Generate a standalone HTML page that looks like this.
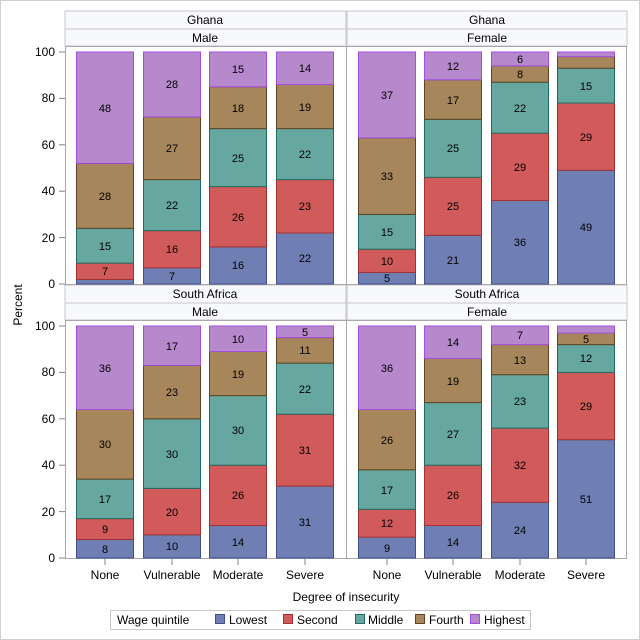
<!DOCTYPE html>
<html><head><meta charset="utf-8"><style>
body{margin:0;background:#fff}
svg{display:block;font-family:"Liberation Sans",sans-serif}
.c1{fill:#6f7fb4;stroke:#3f4f8f}
.c2{fill:#d15b5b;stroke:#a83030}
.c3{fill:#66a8a0;stroke:#1e6e66}
.c4{fill:#a8865b;stroke:#5e4422}
.c5{fill:#b689cc;stroke:#a44de0}
.l{font-size:11px;text-anchor:middle;fill:#000}
.h{fill:#f8f9fd;stroke:#c8c8c8}
.t{font-size:12px;fill:#000}
</style></head><body>
<svg width="640" height="640" viewBox="0 0 640 640">
<rect x="0.5" y="0.5" width="639" height="639" fill="#fff" stroke="#d0d0d0"/>
<!-- headers -->
<rect class="h" x="65" y="11" width="281" height="18"/><rect class="h" x="347" y="11" width="280" height="18"/>
<rect class="h" x="65" y="29" width="281" height="17"/><rect class="h" x="347" y="29" width="280" height="17"/>
<rect class="h" x="65" y="285" width="281" height="18"/><rect class="h" x="347" y="285" width="280" height="18"/>
<rect class="h" x="65" y="303" width="281" height="17"/><rect class="h" x="347" y="303" width="280" height="17"/>
<g class="t" text-anchor="middle">
<text x="205" y="24">Ghana</text><text x="487" y="24">Ghana</text>
<text x="205" y="42">Male</text><text x="487" y="42">Female</text>
<text x="205" y="298">South Africa</text><text x="487" y="298">South Africa</text>
<text x="205" y="316">Male</text><text x="487" y="316">Female</text>
</g>
<!-- plot frames -->
<g fill="none" stroke="#a8a8a8">
<rect x="65.5" y="46.5" width="281" height="238"/><rect x="346.5" y="46.5" width="280" height="238"/>
<rect x="65.5" y="320.5" width="281" height="238"/><rect x="346.5" y="320.5" width="280" height="238"/>
</g>
<!-- y axes -->
<g stroke="#888">
<line x1="59" x2="65" y1="284" y2="284"/><line x1="59" x2="65" y1="237.6" y2="237.6"/><line x1="59" x2="65" y1="191.2" y2="191.2"/><line x1="59" x2="65" y1="144.8" y2="144.8"/><line x1="59" x2="65" y1="98.4" y2="98.4"/><line x1="59" x2="65" y1="52" y2="52"/>
<line x1="59" x2="65" y1="558" y2="558"/><line x1="59" x2="65" y1="511.6" y2="511.6"/><line x1="59" x2="65" y1="465.2" y2="465.2"/><line x1="59" x2="65" y1="418.8" y2="418.8"/><line x1="59" x2="65" y1="372.4" y2="372.4"/><line x1="59" x2="65" y1="326" y2="326"/>
</g>
<g class="t" text-anchor="end">
<text x="55" y="288">0</text><text x="55" y="242">20</text><text x="55" y="195">40</text><text x="55" y="149">60</text><text x="55" y="102">80</text><text x="55" y="56">100</text>
<text x="55" y="562">0</text><text x="55" y="516">20</text><text x="55" y="469">40</text><text x="55" y="423">60</text><text x="55" y="376">80</text><text x="55" y="330">100</text>
</g>
<text class="t" transform="translate(22,305) rotate(-90)" text-anchor="middle">Percent</text>
<!-- Ghana Male -->
<rect class="c1" x="76.5" y="279.4" width="57" height="4.6"/><rect class="c2" x="76.5" y="263.1" width="57" height="16.3"/><rect class="c3" x="76.5" y="228.3" width="57" height="34.8"/><rect class="c4" x="76.5" y="163.4" width="57" height="64.9"/><rect class="c5" x="76.5" y="52" width="57" height="111.4"/>
<rect class="c1" x="143.5" y="267.8" width="57" height="16.2"/><rect class="c2" x="143.5" y="230.6" width="57" height="37.2"/><rect class="c3" x="143.5" y="179.6" width="57" height="51"/><rect class="c4" x="143.5" y="116.9" width="57" height="62.7"/><rect class="c5" x="143.5" y="52" width="57" height="64.9"/>
<rect class="c1" x="209.5" y="246.9" width="57" height="37.1"/><rect class="c2" x="209.5" y="186.6" width="57" height="60.3"/><rect class="c3" x="209.5" y="128.6" width="57" height="58"/><rect class="c4" x="209.5" y="86.8" width="57" height="41.8"/><rect class="c5" x="209.5" y="52" width="57" height="34.8"/>
<rect class="c1" x="276.5" y="233" width="57" height="51"/><rect class="c2" x="276.5" y="179.6" width="57" height="53.4"/><rect class="c3" x="276.5" y="128.6" width="57" height="51"/><rect class="c4" x="276.5" y="84.5" width="57" height="44.1"/><rect class="c5" x="276.5" y="52" width="57" height="32.5"/>
<g class="l">
<text x="105" y="275">7</text><text x="105" y="250">15</text><text x="105" y="200">28</text><text x="105" y="112">48</text>
<text x="172" y="280">7</text><text x="172" y="253">16</text><text x="172" y="209">22</text><text x="172" y="152">27</text><text x="172" y="88">28</text>
<text x="238" y="269">16</text><text x="238" y="221">26</text><text x="238" y="162">25</text><text x="238" y="112">18</text><text x="238" y="73">15</text>
<text x="305" y="262">22</text><text x="305" y="210">23</text><text x="305" y="158">22</text><text x="305" y="111">19</text><text x="305" y="72">14</text>
</g>
<!-- Ghana Female -->
<rect class="c1" x="358.5" y="272.4" width="57" height="11.6"/><rect class="c2" x="358.5" y="249.2" width="57" height="23.2"/><rect class="c3" x="358.5" y="214.4" width="57" height="34.8"/><rect class="c4" x="358.5" y="137.8" width="57" height="76.6"/><rect class="c5" x="358.5" y="52" width="57" height="85.8"/>
<rect class="c1" x="424.5" y="235.3" width="57" height="48.7"/><rect class="c2" x="424.5" y="177.3" width="57" height="58"/><rect class="c3" x="424.5" y="119.3" width="57" height="58"/><rect class="c4" x="424.5" y="79.8" width="57" height="39.5"/><rect class="c5" x="424.5" y="52" width="57" height="27.8"/>
<rect class="c1" x="491.5" y="200.5" width="57" height="83.5"/><rect class="c2" x="491.5" y="133.2" width="57" height="67.3"/><rect class="c3" x="491.5" y="82.2" width="57" height="51"/><rect class="c4" x="491.5" y="65.9" width="57" height="16.3"/><rect class="c5" x="491.5" y="52" width="57" height="13.9"/>
<rect class="c1" x="557.5" y="170.3" width="57" height="113.7"/><rect class="c2" x="557.5" y="103" width="57" height="67.3"/><rect class="c3" x="557.5" y="68.2" width="57" height="34.8"/><rect class="c4" x="557.5" y="56.6" width="57" height="11.6"/><rect class="c5" x="557.5" y="52" width="57" height="4.6"/>
<g class="l">
<text x="387" y="282">5</text><text x="387" y="265">10</text><text x="387" y="236">15</text><text x="387" y="180">33</text><text x="387" y="99">37</text>
<text x="453" y="264">21</text><text x="453" y="210">25</text><text x="453" y="152">25</text><text x="453" y="104">17</text><text x="453" y="70">12</text>
<text x="520" y="246">36</text><text x="520" y="171">29</text><text x="520" y="112">22</text><text x="520" y="78">8</text><text x="520" y="63">6</text>
<text x="586" y="231">49</text><text x="586" y="141">29</text><text x="586" y="90">15</text>
</g>
<!-- South Africa Male -->
<rect class="c1" x="76.5" y="539.4" width="57" height="18.6"/><rect class="c2" x="76.5" y="518.6" width="57" height="20.8"/><rect class="c3" x="76.5" y="479.1" width="57" height="39.5"/><rect class="c4" x="76.5" y="409.5" width="57" height="69.6"/><rect class="c5" x="76.5" y="326" width="57" height="83.5"/>
<rect class="c1" x="143.5" y="534.8" width="57" height="23.2"/><rect class="c2" x="143.5" y="488.4" width="57" height="46.4"/><rect class="c3" x="143.5" y="418.8" width="57" height="69.6"/><rect class="c4" x="143.5" y="365.4" width="57" height="53.4"/><rect class="c5" x="143.5" y="326" width="57" height="39.4"/>
<rect class="c1" x="209.5" y="525.5" width="57" height="32.5"/><rect class="c2" x="209.5" y="465.2" width="57" height="60.3"/><rect class="c3" x="209.5" y="395.6" width="57" height="69.6"/><rect class="c4" x="209.5" y="351.5" width="57" height="44.1"/><rect class="c5" x="209.5" y="326" width="57" height="25.5"/>
<rect class="c1" x="276.5" y="486.1" width="57" height="71.9"/><rect class="c2" x="276.5" y="414.2" width="57" height="71.9"/><rect class="c3" x="276.5" y="363.1" width="57" height="51.1"/><rect class="c4" x="276.5" y="337.6" width="57" height="25.5"/><rect class="c5" x="276.5" y="326" width="57" height="11.6"/>
<g class="l">
<text x="105" y="553">8</text><text x="105" y="533">9</text><text x="105" y="503">17</text><text x="105" y="448">30</text><text x="105" y="372">36</text>
<text x="172" y="550">10</text><text x="172" y="516">20</text><text x="172" y="458">30</text><text x="172" y="396">23</text><text x="172" y="350">17</text>
<text x="238" y="546">14</text><text x="238" y="499">26</text><text x="238" y="434">30</text><text x="238" y="378">19</text><text x="238" y="343">10</text>
<text x="305" y="526">31</text><text x="305" y="454">31</text><text x="305" y="393">22</text><text x="305" y="354">11</text><text x="305" y="336">5</text>
</g>
<!-- South Africa Female -->
<rect class="c1" x="358.5" y="537.1" width="57" height="20.9"/><rect class="c2" x="358.5" y="509.3" width="57" height="27.8"/><rect class="c3" x="358.5" y="469.8" width="57" height="39.5"/><rect class="c4" x="358.5" y="409.5" width="57" height="60.3"/><rect class="c5" x="358.5" y="326" width="57" height="83.5"/>
<rect class="c1" x="424.5" y="525.5" width="57" height="32.5"/><rect class="c2" x="424.5" y="465.2" width="57" height="60.3"/><rect class="c3" x="424.5" y="402.6" width="57" height="62.6"/><rect class="c4" x="424.5" y="358.5" width="57" height="44.1"/><rect class="c5" x="424.5" y="326" width="57" height="32.5"/>
<rect class="c1" x="491.5" y="502.3" width="57" height="55.7"/><rect class="c2" x="491.5" y="428.1" width="57" height="74.2"/><rect class="c3" x="491.5" y="374.7" width="57" height="53.4"/><rect class="c4" x="491.5" y="344.6" width="57" height="30.1"/><rect class="c5" x="491.5" y="326" width="57" height="18.6"/>
<rect class="c1" x="557.5" y="439.7" width="57" height="118.3"/><rect class="c2" x="557.5" y="372.4" width="57" height="67.3"/><rect class="c3" x="557.5" y="344.6" width="57" height="27.8"/><rect class="c4" x="557.5" y="333" width="57" height="11.6"/><rect class="c5" x="557.5" y="326" width="57" height="7"/>
<g class="l">
<text x="387" y="552">9</text><text x="387" y="527">12</text><text x="387" y="494">17</text><text x="387" y="444">26</text><text x="387" y="372">36</text>
<text x="453" y="546">14</text><text x="453" y="499">26</text><text x="453" y="438">27</text><text x="453" y="385">19</text><text x="453" y="346">14</text>
<text x="520" y="534">24</text><text x="520" y="469">32</text><text x="520" y="405">23</text><text x="520" y="364">13</text><text x="520" y="339">7</text>
<text x="586" y="503">51</text><text x="586" y="410">29</text><text x="586" y="362">12</text><text x="586" y="343">5</text>
</g>
<!-- x axis -->
<g stroke="#888">
<line x1="105" x2="105" y1="559" y2="565"/><line x1="172" x2="172" y1="559" y2="565"/><line x1="238" x2="238" y1="559" y2="565"/><line x1="305" x2="305" y1="559" y2="565"/>
<line x1="387" x2="387" y1="559" y2="565"/><line x1="453" x2="453" y1="559" y2="565"/><line x1="520" x2="520" y1="559" y2="565"/><line x1="586" x2="586" y1="559" y2="565"/>
</g>
<g class="t" text-anchor="middle">
<text x="105" y="579">None</text><text x="172" y="579">Vulnerable</text><text x="238" y="579">Moderate</text><text x="305" y="579">Severe</text>
<text x="387" y="579">None</text><text x="453" y="579">Vulnerable</text><text x="520" y="579">Moderate</text><text x="586" y="579">Severe</text>
<text x="346" y="601">Degree of insecurity</text>
</g>
<!-- legend -->
<rect x="110.5" y="610.5" width="420" height="19" fill="#fff" stroke="#c8c8c8"/>
<g class="t">
<text x="117" y="624">Wage quintile</text>
<rect class="c1" x="215.5" y="614.5" width="9" height="9"/><text x="229" y="624">Lowest</text>
<rect class="c2" x="283.5" y="614.5" width="9" height="9"/><text x="297" y="624">Second</text>
<rect class="c3" x="355.5" y="614.5" width="9" height="9"/><text x="368" y="624">Middle</text>
<rect class="c4" x="415.5" y="614.5" width="9" height="9"/><text x="429" y="624">Fourth</text>
<rect class="c5" x="470.5" y="614.5" width="9" height="9"/><text x="484" y="624">Highest</text>
</g>
</svg>
</body></html>
